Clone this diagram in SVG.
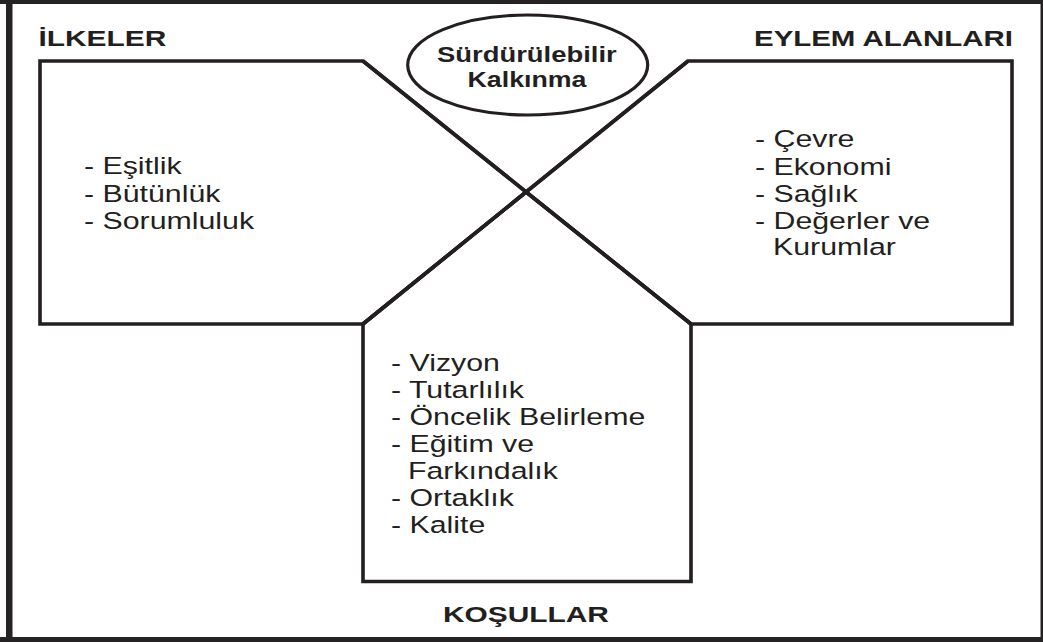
<svg xmlns="http://www.w3.org/2000/svg" width="1043" height="642" viewBox="0 0 1043 642">
<style>
.frame{fill:#262324}
.shape{fill:none;stroke:#231f20;stroke-width:3.6;stroke-linejoin:miter}
.oval{fill:#fff;stroke:#231f20;stroke-width:3.2}
.h{font-family:"Liberation Sans",Arial,sans-serif;font-weight:bold;font-size:21.5px;fill:#231f20}
.t{font-family:"Liberation Sans",Arial,sans-serif;font-size:23.5px;fill:#231f20}
</style>
<rect width="1043" height="642" fill="#fff"/>
<g id="frame">
<rect class="frame" x="0" y="0" width="1043" height="4"/>
<rect class="frame" x="6" y="0" width="6.5" height="642"/>
<rect class="frame" x="0" y="637" width="1043" height="5"/>
<rect class="frame" x="1040.5" y="0" width="2.5" height="642"/>
</g>
<g id="connectors">
<line class="shape" x1="363" y1="61" x2="691" y2="324"/>
<line class="shape" x1="688" y1="61" x2="363" y2="324"/>
</g>
<g id="ilkeler">
<polygon class="shape" points="40,61 363,61 526,192 363,324 40,324"/>
<text class="h" transform="translate(38.5,46) scale(1.39,1)">İLKELER</text>
<text class="t" transform="translate(84,174) scale(1.29,1)">- Eşitlik</text>
<text class="t" transform="translate(84,201.5) scale(1.29,1)">- Bütünlük</text>
<text class="t" transform="translate(84,228.5) scale(1.29,1)">- Sorumluluk</text>
</g>
<g id="eylem-alanlari">
<polygon class="shape" points="688,61 1012,61 1012,324 691,324 526,192"/>
<text class="h" transform="translate(754,46) scale(1.37,1)">EYLEM ALANLARI</text>
<text class="t" transform="translate(755,147) scale(1.29,1)">- Çevre</text>
<text class="t" transform="translate(755,174.5) scale(1.29,1)">- Ekonomi</text>
<text class="t" transform="translate(755,201.5) scale(1.29,1)">- Sağlık</text>
<text class="t" transform="translate(755,228.5) scale(1.29,1)">- Değerler ve</text>
<text class="t" transform="translate(773,255) scale(1.29,1)">Kurumlar</text>
</g>
<g id="kosullar">
<polygon class="shape" points="363,324 526,192 691,324 691,581.5 363,581.5"/>
<text class="t" transform="translate(391,370.7) scale(1.29,1)">- Vizyon</text>
<text class="t" transform="translate(391,397.5) scale(1.29,1)">- Tutarlılık</text>
<text class="t" transform="translate(391,424.5) scale(1.29,1)">- Öncelik Belirleme</text>
<text class="t" transform="translate(391,451.7) scale(1.29,1)">- Eğitim ve</text>
<text class="t" transform="translate(408,479) scale(1.29,1)">Farkındalık</text>
<text class="t" transform="translate(391,506) scale(1.29,1)">- Ortaklık</text>
<text class="t" transform="translate(391,533.3) scale(1.29,1)">- Kalite</text>
<text class="h" transform="translate(443,622) scale(1.39,1)">KOŞULLAR</text>
</g>
<g id="surdurulebilir-kalkinma">
<ellipse class="oval" cx="527.7" cy="65" rx="120" ry="50"/>
<text class="h" transform="translate(437,62) scale(1.275,1)">Sürdürülebilir</text>
<text class="h" transform="translate(467.5,86.5) scale(1.245,1)">Kalkınma</text>
</g>
</svg>
